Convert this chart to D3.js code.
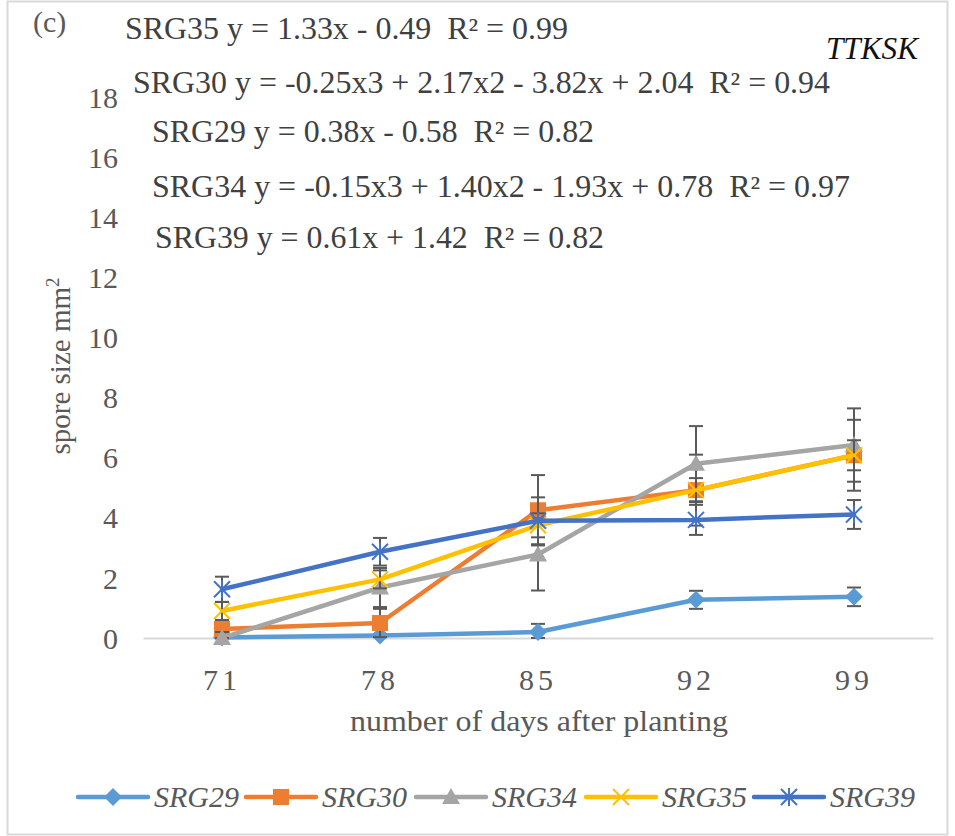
<!DOCTYPE html>
<html>
<head>
<meta charset="utf-8">
<script src="https://cdn.jsdelivr.net/npm/d3@7"></script>
<style>
  body { margin: 0; background: #fff; }
  svg text { font-family: "Times New Roman", "Liberation Serif", serif !important; fill: #595959; white-space: pre; }
</style>
</head>
<body>
<svg id="chart" width="955" height="836"></svg>
<script>
// categories (days after planting)
const days = ["71", "78", "85", "92", "99"];
const yTicks = [0, 2, 4, 6, 8, 10, 12, 14, 16, 18];

// series values (spore size mm2) and error bar half-lengths
const srg29 = [0.02, 0.08, 0.2, 1.27, 1.37];
const srg29Err = [0.05, 0.05, 0.27, 0.3, 0.31];
const srg30 = [0.3, 0.5, 4.25, 4.92, 6.08];
const srg30Err = [0.3, 0.47, 1.17, 1.18, 1.18];
const srg34 = [0.0, 1.68, 2.78, 5.8, 6.42];
const srg34Err = [0.2, 0.65, 1.2, 1.25, 1.22];
const srg35 = [0.9, 1.95, 3.75, 4.92, 6.08];
const srg35Err = [0.3, 0.3, 0.4, 0.4, 0.5];
const srg39 = [1.62, 2.87, 3.9, 3.93, 4.11];
const srg39Err = [0.42, 0.46, 0.78, 0.5, 0.48];

const equations = [
  "SRG35 y = 1.33x - 0.49  R\u00B2 = 0.99",
  "SRG30 y = -0.25x3 + 2.17x2 - 3.82x + 2.04  R\u00B2 = 0.94",
  "SRG29 y = 0.38x - 0.58  R\u00B2 = 0.82",
  "SRG34 y = -0.15x3 + 1.40x2 - 1.93x + 0.78  R\u00B2 = 0.97",
  "SRG39 y = 0.61x + 1.42  R\u00B2 = 0.82"
];

const series = [
  { name: "SRG29", values: srg29, err: srg29Err, color: "#5B9BD5", marker: "diamond" },
  { name: "SRG30", values: srg30, err: srg30Err, color: "#ED7D31", marker: "square" },
  { name: "SRG34", values: srg34, err: srg34Err, color: "#A5A5A5", marker: "triangle" },
  { name: "SRG35", values: srg35, err: srg35Err, color: "#FFC000", marker: "x" },
  { name: "SRG39", values: srg39, err: srg39Err, color: "#4472C4", marker: "star" }
];

const svg = d3.select("#chart");

// outer border
svg.append("rect")
  .attr("x", 7.5).attr("y", 1.5)
  .attr("width", 940).attr("height", 833)
  .attr("fill", "none").attr("stroke", "#d9d9d9").attr("stroke-width", 2);

// scales
const x = d3.scaleBand().domain(days).range([143, 933]);
const y = d3.scaleLinear().domain([0, 18]).range([638, 97]);
const cx = d => x(d) + x.bandwidth() / 2;

// y axis labels
const yAxis = svg.append("g")
  .attr("transform", "translate(118,0)")
  .call(d3.axisLeft(y).tickValues(yTicks).tickSize(0).tickPadding(0));
yAxis.select(".domain").remove();
yAxis.selectAll("text")
  .attr("font-size", 30).attr("dy", "0.34em")
  .attr("fill", "#595959");

// x axis
const xAxis = svg.append("g")
  .attr("transform", "translate(0,638)")
  .call(d3.axisBottom(x).tickSize(0).tickPadding(0));
xAxis.select(".domain").attr("stroke", "#d9d9d9").attr("stroke-width", 2);
xAxis.selectAll("text")
  .attr("font-size", 30).attr("dy", 0).attr("y", 52)
  .attr("letter-spacing", 4)
  .attr("fill", "#595959");

// axis titles
svg.append("text")
  .attr("transform", "translate(70,366) rotate(-90)")
  .attr("text-anchor", "middle").attr("font-size", 29)
  .html('spore size mm<tspan dy="-11" font-size="19">2</tspan>');
svg.append("text")
  .attr("x", 539).attr("y", 731)
  .attr("text-anchor", "middle").attr("font-size", 30)
  .attr("textLength", 378).attr("lengthAdjust", "spacingAndGlyphs")
  .text("number of days after planting");

// panel label and strain name
svg.append("text").attr("x", 33).attr("y", 32).attr("font-size", 30).text("(c)");
svg.append("text").attr("x", 918).attr("y", 59).attr("text-anchor", "end")
  .attr("font-size", 31).attr("font-style", "italic").style("fill", "#111")
  .attr("textLength", 92).attr("lengthAdjust", "spacingAndGlyphs")
  .text("TTKSK");

// trend line equations: [x, baseline, width]
const eqPos = [[125, 39, 443], [133, 93, 697], [152, 142, 442], [152, 197, 698], [155, 248, 449]];
svg.selectAll(".eq").data(equations).join("text")
  .attr("class", "eq")
  .attr("x", (d, i) => eqPos[i][0]).attr("y", (d, i) => eqPos[i][1])
  .attr("textLength", (d, i) => eqPos[i][2]).attr("lengthAdjust", "spacingAndGlyphs")
  .attr("font-size", 31).style("fill", "#404040")
  .text(d => d);

// marker drawing
function drawMarker(g, type, color, px, py) {
  const s = 8;
  if (type === "diamond") {
    g.append("path").attr("d", `M${px},${py - s - 1}L${px + s + 1},${py}L${px},${py + s + 1}L${px - s - 1},${py}Z`)
      .attr("fill", color);
  } else if (type === "square") {
    g.append("rect").attr("x", px - s).attr("y", py - s).attr("width", 2 * s).attr("height", 2 * s)
      .attr("fill", color);
  } else if (type === "triangle") {
    g.append("path").attr("d", `M${px},${py - s - 1}L${px + s + 1},${py + s - 1}L${px - s - 1},${py + s - 1}Z`)
      .attr("fill", color);
  } else if (type === "x") {
    g.append("path").attr("d", `M${px - s},${py - s}L${px + s},${py + s}M${px - s},${py + s}L${px + s},${py - s}`)
      .attr("stroke", color).attr("stroke-width", 2).attr("fill", "none");
  } else if (type === "star") {
    g.append("path").attr("d", `M${px - s},${py - s}L${px + s},${py + s}M${px - s},${py + s}L${px + s},${py - s}M${px},${py - s - 1}L${px},${py + s + 1}`)
      .attr("stroke", color).attr("stroke-width", 2).attr("fill", "none");
  }
}

const line = d3.line().x((d, i) => cx(days[i])).y(d => y(d));

series.forEach(s => {
  const g = svg.append("g");
  g.append("path").datum(s.values)
    .attr("d", line).attr("fill", "none")
    .attr("stroke", s.color).attr("stroke-width", 4.5)
    .attr("stroke-linejoin", "round").attr("stroke-linecap", "round");

  // error bars
  s.values.forEach((v, i) => {
    const px = cx(days[i]);
    const top = y(v + s.err[i]), bot = y(Math.max(0, v - s.err[i]));
    g.append("line").attr("x1", px).attr("x2", px).attr("y1", top).attr("y2", bot)
      .attr("stroke", "#595959").attr("stroke-width", 2);
    [top, bot].forEach(yy => {
      g.append("line").attr("x1", px - 7).attr("x2", px + 7).attr("y1", yy).attr("y2", yy)
        .attr("stroke", "#595959").attr("stroke-width", 2);
    });
  });

  s.values.forEach((v, i) => drawMarker(g, s.marker, s.color, cx(days[i]), y(v)));
});

// legend
const legendX = [78, 246, 416, 586, 754];
const legend = svg.append("g");
series.forEach((s, i) => {
  const lx = legendX[i], ly = 797;
  legend.append("line").attr("x1", lx).attr("x2", lx + 70).attr("y1", ly).attr("y2", ly)
    .attr("stroke", s.color).attr("stroke-width", 4.5).attr("stroke-linecap", "round");
  drawMarker(legend, s.marker, s.color, lx + 35, ly);
  legend.append("text").attr("x", lx + 76).attr("y", ly + 10)
    .attr("font-size", 30).attr("font-style", "italic")
    .attr("textLength", 85).attr("lengthAdjust", "spacingAndGlyphs")
    .text(s.name);
});
</script>
</body>
</html>
